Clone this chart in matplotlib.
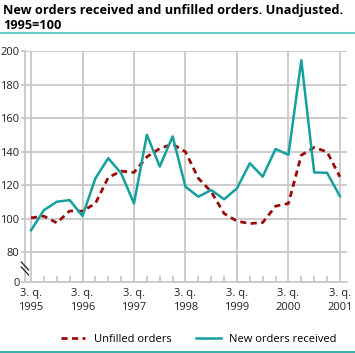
import matplotlib.pyplot as plt
import numpy as np

# quarterly, 3q1995 .. 3q2001
new_orders = [93, 105, 110, 111, 101.5, 124, 136, 127, 109, 150, 131, 149,
              119, 113, 117, 111.5, 118, 133, 125, 141.5, 138, 194.5, 127.5, 127.3, 113.3]
unfilled = [100.4, 101.4, 97.4, 104.5, 104.4, 109, 124.5, 128.3, 127.5, 136.8, 141.8, 144.4,
            139.8, 124, 116, 103, 98.4, 97, 97.6, 107.4, 109, 137.8, 142.4, 139.8, 124.9]
year_labels = ["3. q.\n1995", "3. q.\n1996", "3. q.\n1997", "3. q.\n1998",
               "3. q.\n1999", "3. q.\n2000", "3. q.\n2001"]
ytick_vals = [62.1, 80, 100, 120, 140, 160, 180, 200]
ytick_labels = ["0", "80", "100", "120", "140", "160", "180", "200"]

plt.rcParams["font.family"] = ["Open Sans", "DejaVu Sans"]

teal = "#14a09c"
red = "#990a0a"
grid = "#c8c8c8"

fig = plt.figure(figsize=(3.55, 3.53), dpi=100)
W, H = 355, 353
ax = fig.add_axes([25 / W, (H - 282) / H, (347 - 25) / W, (282 - 51) / H])

x = np.arange(len(new_orders))
ax.plot(x, unfilled, color=red, lw=2, dashes=(2.2, 1.6), zorder=3)
ax.plot(x, new_orders, color=teal, lw=1.8, zorder=4)

ax.set_xlim(-0.47, 24.55)
ax.set_ylim(62.1, 200)

ax.set_yticks(ytick_vals)
ax.set_yticklabels(ytick_labels)
ax.set_xticks(np.arange(0, 25, 4))
ax.set_xticklabels(year_labels)
ax.set_xticks(np.arange(0, 25, 1), minor=True)

for v in ytick_vals[1:]:
    ax.axhline(v, color=grid, lw=1.3, zorder=1)
for v in np.arange(0, 25, 4):
    ax.axvline(v, color=grid, lw=1.3, zorder=1)

for s in ["top", "right"]:
    ax.spines[s].set_visible(False)
ax.spines["left"].set_color(grid)
ax.spines["left"].set_linewidth(1.3)
ax.spines["bottom"].set_color(grid)
ax.spines["bottom"].set_linewidth(1.3)

ax.tick_params(axis="y", length=3, width=1.3, color=grid, labelsize=8, pad=1,
               labelcolor="#222222")
ax.tick_params(axis="x", which="major", length=0, labelsize=8, pad=4,
               labelcolor="#222222")
ax.tick_params(axis="x", which="minor", direction="in", length=4, width=1.3, color=grid)
for lab in ax.get_xticklabels():
    lab.set_linespacing(1.45)

# axis break marks
for dy in (0, 5):
    ax.plot([-0.0115, 0.0115], [(282 - 262 - dy) / 231, (282 - 270 - dy) / 231],
            transform=ax.transAxes, color="#222222", lw=0.9, clip_on=False, zorder=5)

fig.text(3 / W, 1 - 4 / H, "New orders received and unfilled orders. Unadjusted.\n1995=100",
         fontsize=9.2, fontweight="bold", va="top", ha="left", linespacing=1.2)
fig.add_artist(plt.Line2D([0, 1], [1 - 33 / H] * 2, color="#6ccdc8", lw=1.5))
fig.add_artist(plt.Line2D([0, 1], [1 - 351.5 / H] * 2, color="#14a09c", lw=1.2))

h1, = ax.plot([], [], color=red, lw=2, dashes=(2.2, 1.6))
h2, = ax.plot([], [], color=teal, lw=1.8)
fig.legend([h1, h2], ["Unfilled orders", "New orders received"], loc="center",
           bbox_to_anchor=(0.56, 1 - 339 / H), ncol=2, frameon=False, fontsize=8,
           handlelength=2.2, columnspacing=2.2, handletextpad=0.8)

fig.savefig("out.png", dpi=100)
